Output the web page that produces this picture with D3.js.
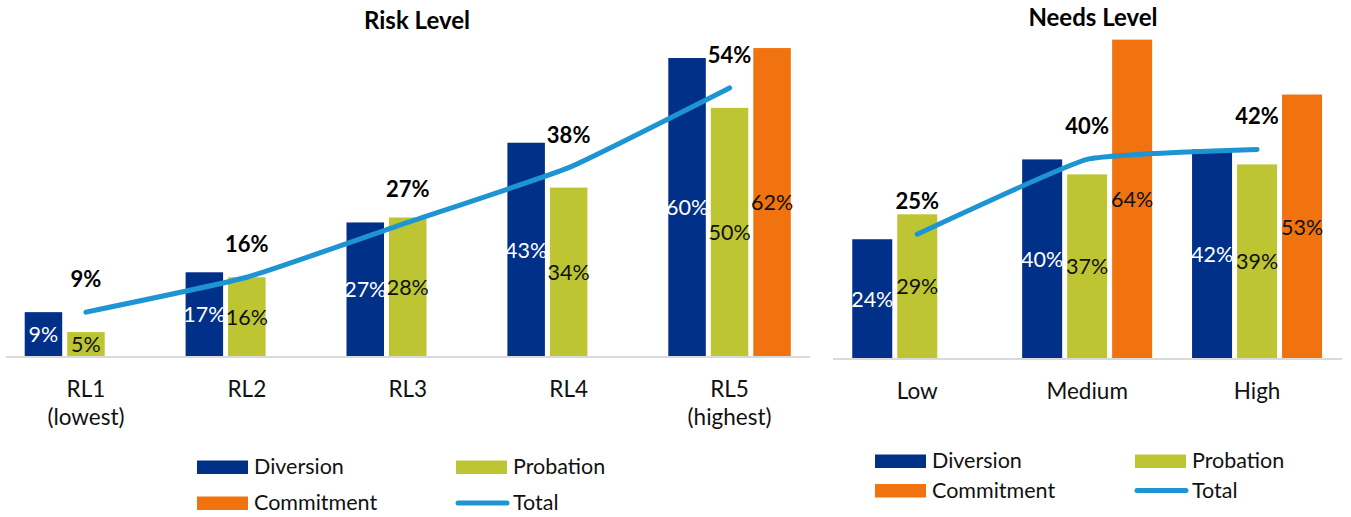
<!DOCTYPE html>
<html>
<head>
<meta charset="utf-8">
<script src="https://cdn.jsdelivr.net/npm/d3@7"></script>
<style>
  html, body { margin: 0; padding: 0; background: #fff; }
  svg { display: block; font-family: Lato, "Open Sans", sans-serif; }
</style>
</head>
<body>
<svg id="chart" width="1351" height="517"></svg>
<script>
// ---------- DATA ----------
const seriesNames = ["Diversion", "Probation", "Commitment"];

const riskCategories = ["RL1", "RL2", "RL3", "RL4", "RL5"];
const riskTickLabels = [["RL1", "(lowest)"], ["RL2"], ["RL3"], ["RL4"], ["RL5", "(highest)"]];
const riskDiversion  = [9, 17, 27, 43, 60];
const riskProbation  = [5, 16, 28, 34, 50];
const riskCommitment = [null, null, null, null, 62];
const riskTotal      = [9, 16, 27, 38, 54];

const needsCategories = ["Low", "Medium", "High"];
const needsTickLabels = [["Low"], ["Medium"], ["High"]];
const needsDiversion  = [24, 40, 42];
const needsProbation  = [29, 37, 39];
const needsCommitment = [null, 64, 53];
const needsTotal      = [25, 40, 42];

// ---------- STYLE ----------
const colors = { Diversion: "#003087", Probation: "#BDC632", Commitment: "#F0730F", Total: "#1E95D3" };
const labelColors = { Diversion: "#ffffff", Probation: "#111111", Commitment: "#111111" };

const svg = d3.select("#chart");

function drawPanel(cfg) {
  const g = svg.append("g");
  const x = d3.scaleBand().domain(cfg.categories).range(cfg.xRange)
    .paddingInner(cfg.outerPad).paddingOuter(cfg.outerPad / 2);
  const xi = d3.scaleBand().domain(seriesNames).range([0, x.bandwidth()])
    .paddingInner(cfg.innerPad).paddingOuter(0);
  const y = d3.scaleLinear().domain([0, 100]).range([cfg.baseY, cfg.baseY - cfg.pxPerPct * 100]);

  // title
  g.append("text").attr("x", cfg.titleX).attr("y", cfg.titleY)
    .attr("text-anchor", "middle").attr("font-weight", "bold").attr("font-size", 24)
    .attr("fill", "#000").text(cfg.title);

  const seriesData = { Diversion: cfg.diversion, Probation: cfg.probation, Commitment: cfg.commitment };
  const rows = [];
  seriesNames.forEach(s => {
    seriesData[s].forEach((v, i) => {
      if (v !== null) rows.push({ s, cat: cfg.categories[i], v });
    });
  });

  // bars
  g.selectAll("rect.bar").data(rows).join("rect").attr("class", "bar")
    .attr("x", d => x(d.cat) + xi(d.s))
    .attr("width", xi.bandwidth())
    .attr("y", d => y(d.v))
    .attr("height", d => y(0) - y(d.v))
    .attr("fill", d => colors[d.s]);

  // axis
  const axis = d3.axisBottom(x).tickSize(0).tickFormat("");
  const ag = g.append("g").attr("transform", `translate(0,${cfg.baseY})`).call(axis);
  ag.select(".domain").attr("stroke", "#d9d9d9").attr("stroke-width", 2)
    .attr("d", `M${cfg.axisX[0]},0H${cfg.axisX[1]}`);
  ag.selectAll(".tick text").remove();
  ag.selectAll(".tick").each(function(d, i) {
    const t = d3.select(this).append("text").attr("fill", "#111").attr("font-size", 22.5)
      .attr("text-anchor", "middle").attr("font-family", "Lato, sans-serif");
    cfg.tickLabels[i].forEach((ln, j) => {
      t.append("tspan").attr("x", 0).attr("y", 40 + j * 28).text(ln);
    });
  });

  // bar labels
  g.selectAll("text.vl").data(rows).join("text").attr("class", "vl")
    .attr("x", d => x(d.cat) + xi(d.s) + xi.bandwidth() / 2)
    .attr("y", d => (y(d.v) + y(0)) / 2)
    .attr("dy", "0.36em")
    .attr("text-anchor", "middle").attr("font-size", 21.5)
    .attr("fill", d => labelColors[d.s])
    .text(d => d.v + "%");

  // total line
  const pts = cfg.categories.map((c, i) => [x(c) + x.bandwidth() / 2, y(cfg.total[i])]);
  g.append("path").attr("d", d3.line().curve(d3.curveCardinal.tension(0.6))(pts))
    .attr("fill", "none").attr("stroke", colors.Total).attr("stroke-width", 5)
    .attr("stroke-linecap", "round").attr("stroke-linejoin", "round");

  g.selectAll("text.tl").data(cfg.total).join("text").attr("class", "tl")
    .attr("x", (d, i) => pts[i][0])
    .attr("y", (d, i) => pts[i][1] - 25)
    .attr("text-anchor", "middle").attr("font-size", 22).attr("font-weight", "bold")
    .attr("fill", "#000").text(d => d + "%");

  // legend
  const L = cfg.legend;
  const items = [
    { name: "Diversion", x: L.x1, y: L.y1, type: "rect" },
    { name: "Probation", x: L.x2, y: L.y1, type: "rect" },
    { name: "Commitment", x: L.x1, y: L.y2, type: "rect" },
    { name: "Total", x: L.x2, y: L.y2, type: "line" }
  ];
  const lg = g.append("g");
  items.forEach(it => {
    if (it.type === "rect") {
      lg.append("rect").attr("x", it.x).attr("y", it.y - 13.5).attr("width", 51).attr("height", 13.5)
        .attr("fill", colors[it.name]);
    } else {
      lg.append("line").attr("x1", it.x + 2).attr("x2", it.x + 51).attr("y1", it.y - 7).attr("y2", it.y - 7)
        .attr("stroke", colors.Total).attr("stroke-width", 5).attr("stroke-linecap", "round");
    }
    lg.append("text").attr("x", it.x + 57).attr("y", it.y).attr("font-size", 21.5)
      .attr("fill", "#111").text(it.name);
  });
}

drawPanel({
  title: "Risk Level", titleX: 417, titleY: 29,
  categories: riskCategories, tickLabels: riskTickLabels,
  diversion: riskDiversion, probation: riskProbation, commitment: riskCommitment, total: riskTotal,
  xRange: [5.5, 810], axisX: [6, 810], outerPad: 0.2387, innerPad: 0.1176,
  baseY: 357, pxPerPct: 4.983,
  legend: { x1: 197, x2: 456, y1: 474, y2: 510 }
});

drawPanel({
  title: "Needs Level", titleX: 1093, titleY: 26,
  categories: needsCategories, tickLabels: needsTickLabels,
  diversion: needsDiversion, probation: needsProbation, commitment: needsCommitment, total: needsTotal,
  xRange: [832.3, 1342], axisX: [833, 1342], outerPad: 0.235, innerPad: 0.111,
  baseY: 359, pxPerPct: 4.99,
  legend: { x1: 875, x2: 1135, y1: 468, y2: 497.5 }
});
</script>
</body>
</html>
